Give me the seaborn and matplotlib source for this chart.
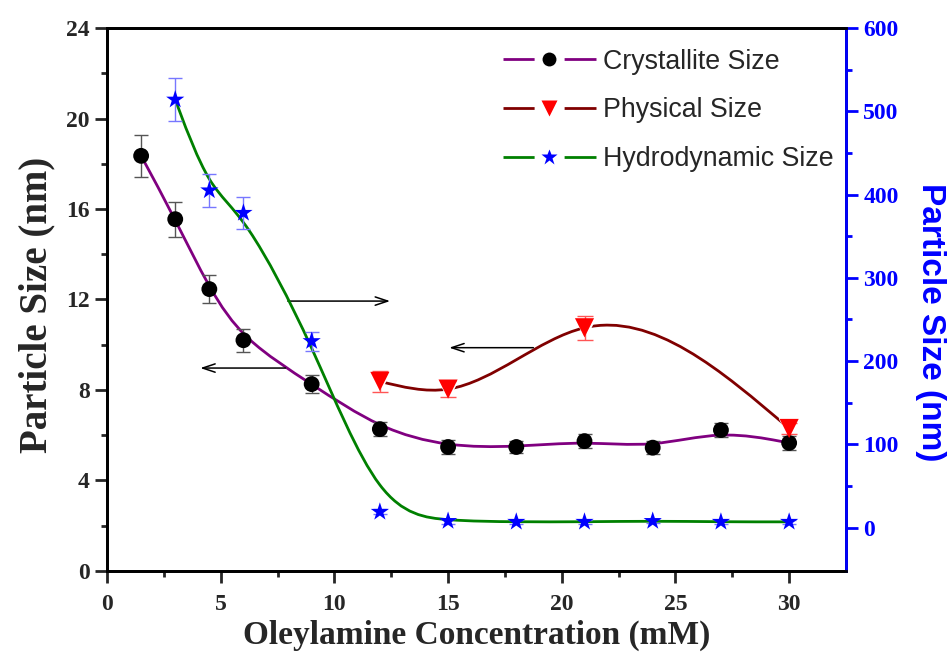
import numpy as np
import pandas as pd
import matplotlib
matplotlib.use("Agg")
import matplotlib.pyplot as plt
from matplotlib.path import Path
from matplotlib.patches import PathPatch
from matplotlib.lines import Line2D
from matplotlib.legend_handler import HandlerTuple
import seaborn as sns

# ---------------- data ----------------
cryst_x = [1.5, 3, 4.5, 6, 9, 12, 15, 18, 21, 24, 27, 30]
cryst_y = [18.35, 15.55, 12.46, 10.2, 8.26, 6.27, 5.48, 5.48, 5.74, 5.45, 6.23, 5.66]
cryst_err = [0.92, 0.77, 0.63, 0.5, 0.4, 0.3, 0.3, 0.28, 0.3, 0.3, 0.3, 0.3]

phys_x = [12, 15, 21, 30]
phys_y = [8.38, 8.04, 10.75, 6.3]
phys_err = [0.45, 0.35, 0.53, 0.25]

hydro_x = [3, 4.5, 6, 9, 12, 15, 18, 21, 24, 27, 30]
hydro_y = [514, 405, 378, 224, 19, 8, 7, 7, 8, 7, 7]
hydro_err = [26, 20, 19, 11.5, 3, 3, 2, 2, 2, 2, 2]

x_ticks = [0, 5, 10, 15, 20, 25, 30]
left_ticks = [0, 4, 8, 12, 16, 20, 24]
right_ticks = [0, 100, 200, 300, 400, 500, 600]

labels = ["Crystallite Size", "Physical Size", "Hydrodynamic Size"]

# ---------------- style ----------------
sns.set_style("ticks")
plt.rcParams["font.family"] = ["Liberation Serif", "DejaVu Serif"]

PURPLE, DRED, GREEN = "#800080", "#800000", "#008000"
RED, BLUE = "#FF0000", "#0000FF"

fig = plt.figure(figsize=(9.53, 6.53), dpi=100)
ax = fig.add_axes([0.1123, 0.1256, 0.7754, 0.8315])
ax2 = ax.twinx()


def bspline_path(xs, ys):
    """Cubic uniform B-spline (data points as control points) drawn as Bezier path."""
    P = np.column_stack([xs, ys]).astype(float)
    P = np.vstack([P[:1], P[:1], P, P[-1:], P[-1:]])
    verts, codes = [], []
    for i in range(len(P) - 3):
        p0, p1, p2, p3 = P[i], P[i + 1], P[i + 2], P[i + 3]
        b0 = (p0 + 4 * p1 + p2) / 6
        b1 = (2 * p1 + p2) / 3
        b2 = (p1 + 2 * p2) / 3
        b3 = (p1 + 4 * p2 + p3) / 6
        if not verts:
            verts.append(b0); codes.append(Path.MOVETO)
        verts += [b1, b2, b3]; codes += [Path.CURVE4] * 3
    return Path(verts, codes)


def spline_path(xs, ys):
    """Natural cubic spline through the points, drawn as Bezier path."""
    x = np.asarray(xs, float); y = np.asarray(ys, float)
    n = len(x); h = np.diff(x)
    A = np.zeros((n, n)); r = np.zeros(n)
    A[0, 0] = A[-1, -1] = 1
    for i in range(1, n - 1):
        A[i, i - 1] = h[i - 1]; A[i, i] = 2 * (h[i - 1] + h[i]); A[i, i + 1] = h[i]
        r[i] = 6 * ((y[i + 1] - y[i]) / h[i] - (y[i] - y[i - 1]) / h[i - 1])
    M = np.linalg.solve(A, r)
    m = np.zeros(n)
    for i in range(n - 1):
        m[i] = (y[i + 1] - y[i]) / h[i] - h[i] * (2 * M[i] + M[i + 1]) / 6
    m[-1] = (y[-1] - y[-2]) / h[-1] + h[-1] * (M[-2] + 2 * M[-1]) / 6
    verts = [(x[0], y[0])]; codes = [Path.MOVETO]
    for i in range(n - 1):
        verts += [(x[i] + h[i] / 3, y[i] + m[i] * h[i] / 3),
                  (x[i + 1] - h[i] / 3, y[i + 1] - m[i + 1] * h[i] / 3),
                  (x[i + 1], y[i + 1])]
        codes += [Path.CURVE4] * 3
    return Path(verts, codes)


# ---------------- left axis: crystallite & physical ----------------
ax.add_patch(PathPatch(bspline_path(cryst_x, cryst_y), fill=False, ec=PURPLE, lw=2.0, zorder=2))
ax.add_patch(PathPatch(spline_path(phys_x, phys_y), fill=False, ec=DRED, lw=2.0, zorder=2))

ax.errorbar(cryst_x, cryst_y, yerr=cryst_err, fmt="none", ecolor="#555555", elinewidth=1,
            capsize=5, capthick=1, zorder=3)
sns.scatterplot(x=cryst_x, y=cryst_y, ax=ax, marker="o", s=130, color="black",
                edgecolor="none", zorder=4, legend=False)

# white halo to give the gap in the curve around triangles
ax.plot(phys_x, phys_y, ls="none", marker="v", ms=15, mfc="white", mec="white", zorder=3)
ax.errorbar(phys_x, phys_y, yerr=phys_err, fmt="none", ecolor="#FF5555", elinewidth=1,
            capsize=6, capthick=1, zorder=4)
sns.scatterplot(x=phys_x, y=phys_y, ax=ax, marker="v", s=190, color=RED,
                edgecolor="none", zorder=5, legend=False)

# ---------------- right axis: hydrodynamic ----------------
ax2.add_patch(PathPatch(bspline_path(hydro_x, hydro_y), fill=False, ec=GREEN, lw=2.0, zorder=2))
ax2.errorbar(hydro_x, hydro_y, yerr=hydro_err, fmt="none", ecolor="#7777FF", elinewidth=1,
             capsize=5, capthick=1, zorder=3)
sns.scatterplot(x=hydro_x, y=hydro_y, ax=ax2, marker="*", s=190, color=BLUE,
                edgecolor="none", zorder=4, legend=False)

# ---------------- arrows ----------------
aprops = dict(arrowstyle="->,head_length=0.9,head_width=0.3", color="black", lw=1.1,
              shrinkA=0, shrinkB=0)
ax.annotate("", xy=(12.45, 11.93), xytext=(7.95, 11.93), arrowprops=aprops, zorder=6)
ax.annotate("", xy=(4.1, 8.97), xytext=(7.85, 8.97), arrowprops=aprops, zorder=6)
ax.annotate("", xy=(15.05, 9.87), xytext=(18.75, 9.87), arrowprops=aprops, zorder=6)

# ---------------- axes formatting ----------------
ax.set_xlim(0, 32.5)
ax.set_ylim(0, 24)
ax2.set_ylim(-52, 600)

ax.set_xticks(x_ticks)
ax.set_xticks(np.arange(2.5, 32.5, 5), minor=True)
ax.set_yticks(left_ticks)
ax.set_yticks(np.arange(2, 24, 4), minor=True)
ax2.set_yticks(right_ticks)
ax2.set_yticks(np.arange(50, 600, 100), minor=True)

tick_font = dict(family="Liberation Serif", weight="bold", size=17)
ax.set_xticklabels([str(t) for t in x_ticks], fontdict=tick_font)
ax.set_yticklabels([str(t) for t in left_ticks], fontdict=tick_font)
ax2.set_yticklabels([str(t) for t in right_ticks], fontdict=tick_font, color=BLUE)

ax.tick_params(axis="both", which="major", direction="out", length=8.5, width=2, pad=4)
ax.tick_params(axis="both", which="minor", direction="out", length=4, width=2)
ax.tick_params(axis="x", which="major", pad=8.2)
ax.tick_params(axis="y", which="both", right=False)
ax.tick_params(axis="x", which="both", top=False)
ax2.tick_params(axis="y", which="major", direction="out", length=8.5, width=2, colors=BLUE, pad=4)
ax2.tick_params(axis="y", which="minor", direction="out", length=4, width=2, colors=BLUE)

for a in (ax, ax2):
    for s in a.spines.values():
        s.set_linewidth(2)
        s.set_color("black")
ax2.spines["right"].set_color(BLUE)

ax.set_xlabel("Oleylamine Concentration (mM)", family="Liberation Serif", weight="bold",
              size=24, labelpad=3.5)
ax.set_ylabel("Particle Size (nm)", family="Liberation Serif", weight="bold", size=28, labelpad=8)
ax.yaxis.label.set_y(0.49)
ax2.set_ylabel("Particle Size (nm)", family="Liberation Sans", weight="bold", size=24,
               color=BLUE, rotation=270, labelpad=34)
ax2.yaxis.label.set_y(0.459)

# ---------------- legend ----------------
def entry(lc, marker, mc, ms):
    line = Line2D([], [], color=lc, lw=2, linestyle=(0, (11.2, 10.8, 11.5, 60)),
                  dash_capstyle="butt")
    mk = Line2D([], [], ls="none", marker=marker, ms=ms, mfc=mc, mec="none")
    return (line, mk)

handles = [entry(PURPLE, "o", "black", 10),
           entry(DRED, "v", RED, 12),
           entry(GREEN, "*", BLUE, 12)]
leg = ax2.legend(handles, labels, handler_map={tuple: HandlerTuple(ndivide=1)},
                 loc="upper left", bbox_to_anchor=(0.521, 0.982), frameon=False,
                 prop=dict(family="Liberation Sans", size=19.3), handlelength=3.47,
                 handletextpad=0.27, labelspacing=0.85, borderaxespad=0)

fig.savefig("out.png", dpi=100)
